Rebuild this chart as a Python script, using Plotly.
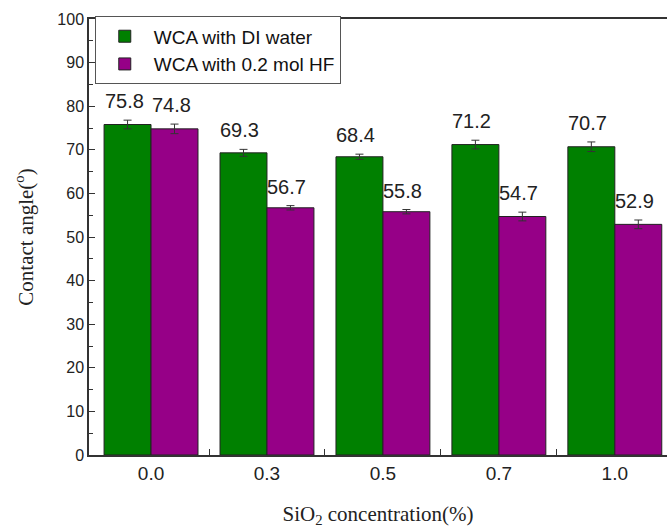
import plotly.graph_objects as go

categories = ["0.0", "0.3", "0.5", "0.7", "1.0"]
di_water = [75.8, 69.3, 68.4, 71.2, 70.7]
di_err = [1.0, 0.8, 0.6, 1.0, 1.1]
hf = [74.8, 56.7, 55.8, 54.7, 52.9]
hf_err = [1.1, 0.5, 0.5, 1.0, 1.0]
yticks = [0, 10, 20, 30, 40, 50, 60, 70, 80, 90, 100]

GREEN = "#008000"
PURPLE = "#960087"
xpos = list(range(len(categories)))

fig = go.Figure()
fig.add_trace(go.Bar(
    x=xpos, y=di_water, name="WCA with DI water",
    marker=dict(color=GREEN, line=dict(color="#222", width=1)),
    error_y=dict(type="data", array=di_err, color="#333", thickness=1, width=4),
))
fig.add_trace(go.Bar(
    x=xpos, y=hf, name="WCA with 0.2 mol HF",
    marker=dict(color=PURPLE, line=dict(color="#222", width=1)),
    error_y=dict(type="data", array=hf_err, color="#333", thickness=1, width=4),
))

for i in xpos:
    fig.add_annotation(x=i, y=di_water[i] + di_err[i], text=f"{di_water[i]:.1f}",
                       xref="x", yref="y", showarrow=False, xshift=-27,
                       yanchor="bottom", yshift=6,
                       font=dict(family="Liberation Sans, Arial", size=20, color="#222"))
    fig.add_annotation(x=i, y=hf[i] + hf_err[i], text=f"{hf[i]:.1f}",
                       xref="x", yref="y", showarrow=False, xshift=20,
                       yanchor="bottom", yshift=6,
                       font=dict(family="Liberation Sans, Arial", size=20, color="#222"))

fig.update_layout(
    width=667, height=528,
    margin=dict(l=89, r=0, t=19, b=73),
    paper_bgcolor="white", plot_bgcolor="white",
    barmode="group", bargap=0.19, bargroupgap=0,
    font=dict(family="Liberation Sans, Arial", size=15, color="#222"),
    showlegend=True,
    legend=dict(x=0.01, y=1.006, xanchor="left", yanchor="top",
                bgcolor="white", bordercolor="#555", borderwidth=1,
                font=dict(size=19, color="#111"), itemwidth=48,
                tracegroupgap=0),
    xaxis=dict(
        range=[-0.535, 4.45], tickmode="array", tickvals=xpos, ticktext=categories,
        ticks="", showline=True, linecolor="#333", linewidth=1.5, mirror=True,
        showgrid=False, zeroline=False,
        minor=dict(tickmode="array", tickvals=[0.5, 1.5, 2.5, 3.5],
                   ticks="inside", ticklen=6, tickcolor="#333", showgrid=False),
        title=dict(text="SiO<sub>2</sub> concentration(%)",
                   font=dict(family="Liberation Serif, Times New Roman", size=21, color="#222"),
                   standoff=24),
        tickfont=dict(size=19),
    ),
    yaxis=dict(
        range=[0, 100], tickmode="array", tickvals=yticks,
        ticks="inside", ticklen=6, tickcolor="#333",
        showline=True, linecolor="#333", linewidth=1.5, mirror=False,
        showgrid=False, zeroline=False,
        minor=dict(dtick=5, tick0=0, ticks="inside", ticklen=4, tickcolor="#333", showgrid=False),
        title=dict(text="Contact angle(<sup>o</sup>)",
                   font=dict(family="Liberation Serif, Times New Roman", size=21, color="#222"),
                   standoff=18),
        tickfont=dict(size=16),
    ),
)

fig.write_html("out.html", config={"displayModeBar": False},
               post_script="document.body.style.margin='0';")
